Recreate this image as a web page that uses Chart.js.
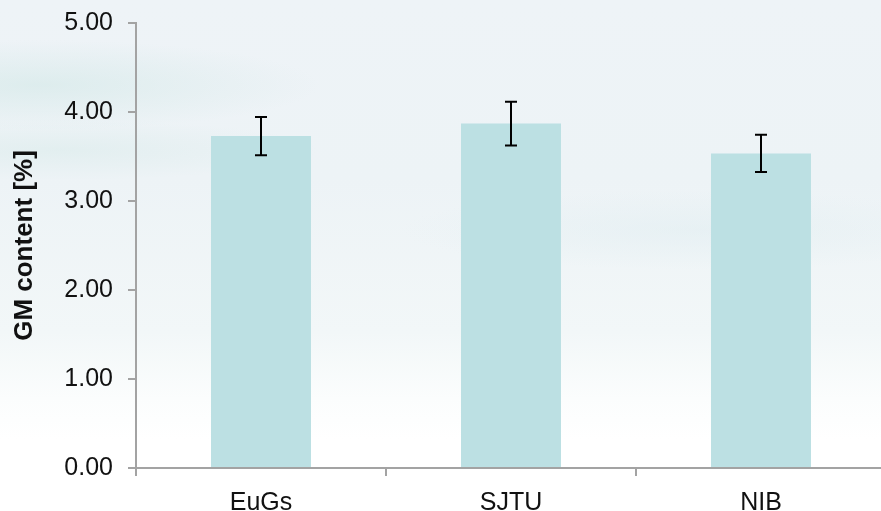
<!DOCTYPE html>
<html lang="en">
<head>
    <meta charset="UTF-8">
    <title>GM content</title>
    <style>
        html, body {
            margin: 0;
            padding: 0;
            overflow: hidden;
        }
        body {
            width: 881px;
            height: 511px;
            background:
                radial-gradient(ellipse 280px 45px at 40px 85px, rgba(205, 230, 228, 0.5), rgba(255, 255, 255, 0)),
                radial-gradient(ellipse 260px 30px at 60px 150px, rgba(210, 232, 230, 0.4), rgba(255, 255, 255, 0)),
                radial-gradient(ellipse 300px 40px at 700px 230px, rgba(222, 236, 240, 0.45), rgba(255, 255, 255, 0)),
                linear-gradient(to bottom, #eef3f7 0%, #edf3f6 35%, #f2f7f8 65%, #fbfdfd 78%, #ffffff 86%);
        }
        .wrap {
            width: 886px;
            height: 511px;
        }
    </style>
</head>
<body>
<div class="wrap">
    <canvas id="myChart" width="886" height="511"></canvas>
</div>

<script src="https://cdn.jsdelivr.net/npm/chart.js"></script>
<script>
    // данные
    var categories = ['EuGs', 'SJTU', 'NIB'];
    var values = [3.73, 3.87, 3.535];
    var errors = [0.215, 0.245, 0.21];
    var yTicks = [0, 1, 2, 3, 4, 5];

    var axisColor = '#a3a3a3';

    // планки погрешностей
    var errorBars = {
        id: 'errorBars',
        afterDatasetsDraw: function (chart) {
            var ctx = chart.ctx;
            var y = chart.scales.y;
            var meta = chart.getDatasetMeta(0);
            ctx.save();
            ctx.strokeStyle = '#000';
            ctx.lineWidth = 2;
            meta.data.forEach(function (bar, i) {
                var top = y.getPixelForValue(values[i] + errors[i]);
                var bottom = y.getPixelForValue(values[i] - errors[i]);
                var x = bar.x;
                ctx.beginPath();
                ctx.moveTo(x, top);
                ctx.lineTo(x, bottom);
                ctx.moveTo(x - 6, top);
                ctx.lineTo(x + 6, top);
                ctx.moveTo(x - 6, bottom);
                ctx.lineTo(x + 6, bottom);
                ctx.stroke();
            });
            ctx.restore();
        }
    };

    var ctx = document.getElementById('myChart').getContext('2d');
    var myChart = new Chart(ctx, {
        type: 'bar',
        data: {
            labels: categories,
            datasets: [{
                label: 'GM content',
                data: values,
                backgroundColor: '#bce0e3',
                borderWidth: 0,
                categoryPercentage: 1,
                barPercentage: 0.4
            }]
        },
        options: {
            responsive: false,
            animation: false,
            layout: {
                padding: { top: 23, right: 0, bottom: 0, left: 0 }
            },
            plugins: {
                legend: { display: false },
                tooltip: { enabled: false }
            },
            scales: {
                x: {
                    grid: {
                        drawOnChartArea: false,
                        drawTicks: true,
                        tickLength: 8,
                        color: axisColor,
                        lineWidth: 2
                    },
                    border: { color: axisColor, width: 2 },
                    ticks: {
                        color: '#111',
                        padding: 12,
                        font: { family: 'Liberation Sans, Arial', size: 25 }
                    },
                    afterFit: function (scale) {
                        scale.height = 43;
                    }
                },
                y: {
                    min: 0,
                    max: 5,
                    afterBuildTicks: function (scale) {
                        scale.ticks = yTicks.map(function (v) { return { value: v }; });
                    },
                    grid: {
                        drawOnChartArea: false,
                        drawTicks: true,
                        tickLength: 8,
                        color: axisColor,
                        lineWidth: 2
                    },
                    border: { color: axisColor, width: 2 },
                    ticks: {
                        color: '#111',
                        padding: 15,
                        font: { family: 'Liberation Sans, Arial', size: 25, lineHeight: 0.6 },
                        callback: function (v) { return Number(v).toFixed(2); }
                    },
                    title: {
                        display: true,
                        text: 'GM content [%]',
                        color: '#111',
                        padding: { top: 9, bottom: 0 },
                        font: { family: 'Liberation Sans, Arial', size: 26, weight: 'bold' }
                    },
                    afterFit: function (scale) {
                        scale.width = 136;
                    }
                }
            }
        },
        plugins: [errorBars]
    });
</script>
</body>
</html>
